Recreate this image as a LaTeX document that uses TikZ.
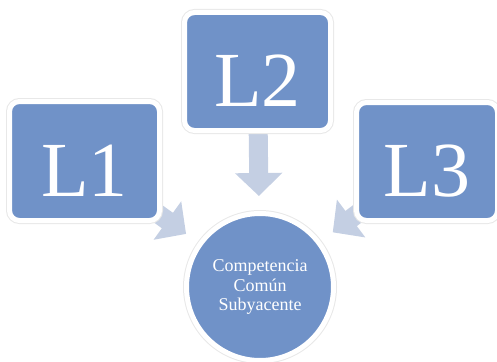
\documentclass[tikz,border=0pt]{standalone}
\usepackage{fontspec}
\setmainfont{Liberation Serif}
\usetikzlibrary{arrows.meta,backgrounds}
\definecolor{boxblue}{RGB}{112,146,200}
\definecolor{flowblue}{RGB}{196,207,227}
\begin{document}
\begin{tikzpicture}[x=1pt, y=1pt,
	level box/.style={rectangle, rounded corners=10pt, fill=boxblue, draw=white, line width=5pt,
	  preaction={draw=black!9, line width=7pt}, inner sep=0pt, text=white,
	  font=\fontsize{78}{78}\selectfont, text height=70pt, text depth=0pt},
	core/.style={circle, fill=boxblue, draw=white, line width=5pt,
	  preaction={draw=black!9, line width=7pt}, minimum size=147pt, inner sep=0pt,
	  text=white, align=center, font=\fontsize{18}{19.5}\selectfont},
	flow/.style={draw=flowblue, line width=19pt, -{Triangle[length=23pt, width=46pt]}, shorten >=91pt}]
		\useasboundingbox (0,0) rectangle (497,-361);
		\node[level box, minimum width=150pt, minimum height=119pt] (l1) at (84.5,-161) {L1};
		\node[level box, minimum width=146pt, minimum height=118pt] (l2) at (257.5,-71.5) {L2};
		\node[level box, minimum width=141pt, minimum height=118pt] (l3) at (427,-161.5) {L3};
		\node[core] (comp) at (260,-287) {Competencia\\Común\\Subyacente};
		\begin{scope}[on background layer]
		  \draw[flow] (l1.center) -- (comp.center);
		  \draw[flow] (l2.center) -- (comp.center);
		  \draw[flow] (l3.center) -- (comp.center);
		\end{scope}
	\end{tikzpicture}
\end{document}
